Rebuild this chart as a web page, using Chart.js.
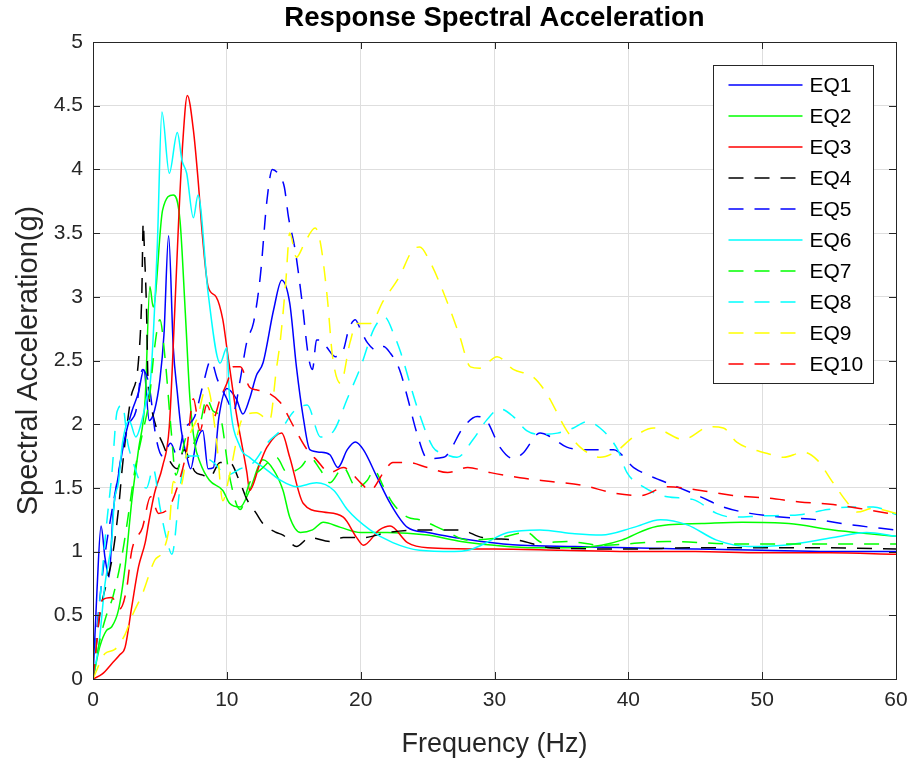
<!DOCTYPE html>
<html>
<head>
<meta charset="utf-8">
<title>Response Spectral Acceleration</title>
<script src="https://cdn.jsdelivr.net/npm/chart.js@4.4.0/dist/chart.umd.min.js"></script>
<style>
  html, body { margin: 0; padding: 0; background: #fff; }
  #wrap { width: 917px; height: 764px; }
</style>
</head>
<body>
<div id="wrap"><canvas id="rsaChart" width="917" height="764"></canvas></div>
<script>
// series, frequency in Hz, acceleration in g
const eq1Freq = [0, 0.3, 0.6, 0.9, 1.2, 1.5, 1.9, 2.4, 2.9, 3.4, 3.8, 4.2, 4.6, 5.0, 5.3, 5.65, 6.0, 6.3, 6.6, 7.0, 7.3, 7.7, 8.2, 8.6, 9.0, 9.4, 10.0, 10.7, 11.2, 11.7, 12.2, 12.7, 13.5, 14.1, 14.7, 15.2, 15.7, 16.2, 17.0, 17.7, 18.3, 19.0, 19.6, 20.2, 21.2, 22.2, 23.5, 25.0, 27.0, 29.0, 32.0, 36.0, 40.0, 45.0, 50.0, 55.0, 60.0];
const eq1Sa   = [0, 0.7, 1.2, 0.95, 0.8, 1.3, 1.6, 1.9, 2.1, 2.25, 2.43, 2.03, 2.11, 2.35, 2.7, 3.48, 2.6, 2.25, 1.95, 1.75, 1.65, 1.85, 1.95, 1.65, 1.66, 2.05, 2.28, 2.2, 2.08, 2.2, 2.38, 2.48, 2.9, 3.13, 2.95, 2.45, 2.06, 1.8, 1.78, 1.76, 1.66, 1.8, 1.86, 1.8, 1.59, 1.38, 1.19, 1.15, 1.11, 1.08, 1.05, 1.04, 1.03, 1.02, 1.01, 1.0, 1.0];

const eq2Freq = [0, 0.5, 1.0, 1.4, 1.9, 2.4, 2.9, 3.4, 3.9, 4.25, 4.5, 5.2, 6.0, 6.5, 6.9, 7.25, 7.6, 8.0, 8.7, 9.7, 10.2, 11.0, 11.7, 12.7, 13.5, 14.2, 14.7, 15.5, 16.4, 17.2, 18.5, 20.0, 22.0, 25.0, 27.5, 30.0, 33.0, 36.0, 38.0, 39.5, 41.5, 43.0, 45.5, 48.5, 52.0, 55.3, 58.0, 60.0];
const eq2Sa   = [0, 0.25, 0.38, 0.41, 0.54, 0.88, 1.4, 1.8, 2.2, 3.08, 2.92, 3.68, 3.8, 3.6, 2.87, 2.19, 1.85, 1.7, 1.56, 1.48, 1.38, 1.35, 1.48, 1.72, 1.64, 1.48, 1.27, 1.15, 1.17, 1.23, 1.19, 1.15, 1.15, 1.13, 1.08, 1.05, 1.03, 1.03, 1.05, 1.09, 1.18, 1.21, 1.22, 1.23, 1.22, 1.17, 1.14, 1.12];

const eq3Freq = [0, 0.7, 1.4, 2.0, 2.4, 2.9, 3.4, 3.9, 4.2, 4.6, 5.2, 5.7, 6.1, 6.4, 6.7, 7.05, 7.5, 7.85, 8.2, 8.6, 9.2, 9.7, 10.0, 10.7, 11.5, 11.7, 12.5, 13.0, 14.1, 14.7, 15.7, 17.2, 18.7, 19.7, 20.2, 21.4, 22.2, 23.5, 25.0, 30.0, 35.0, 40.0, 45.0, 50.0, 55.0, 60.0];
const eq3Sa   = [0, 0.04, 0.12, 0.19, 0.25, 0.57, 0.88, 1.07, 1.25, 1.46, 1.67, 1.98, 2.87, 3.6, 4.2, 4.58, 4.31, 3.92, 3.45, 3.08, 3.0, 2.82, 2.6, 2.09, 1.62, 1.48, 1.7, 1.82, 1.93, 1.74, 1.38, 1.31, 1.27, 1.11, 1.05, 1.17, 1.2, 1.07, 1.03, 1.02, 1.01, 1.0, 1.0, 0.99, 0.99, 0.98];

const eq4Freq = [0, 0.5, 1.0, 1.4, 1.9, 2.2, 2.8, 3.4, 3.65, 3.75, 3.85, 4.0, 4.1, 4.4, 4.8, 5.2, 5.8, 6.3, 6.8, 7.3, 7.6, 8.2, 8.7, 9.5, 10.2, 11.0, 11.5, 12.2, 12.7, 13.7, 14.2, 15.2, 16.2, 17.7, 18.7, 20.2, 22.0, 24.4, 27.4, 29.1, 31.7, 34.2, 40.0, 45.0, 50.0, 55.0, 60.0];
const eq4Sa   = [0, 0.5, 0.75, 0.93, 1.33, 1.67, 2.19, 2.5, 3.03, 3.58, 3.34, 2.9, 2.37, 2.11, 1.95, 1.85, 1.7, 1.65, 1.8, 1.7, 1.63, 1.6, 1.58, 1.7, 1.7, 1.54, 1.41, 1.3, 1.22, 1.15, 1.13, 1.04, 1.11, 1.08, 1.11, 1.11, 1.15, 1.17, 1.17, 1.11, 1.09, 1.03, 1.02, 1.03, 1.03, 1.03, 1.02];

const eq5Freq = [0, 0.3, 0.8, 1.3, 1.8, 2.2, 2.7, 3.2, 3.7, 4.2, 4.7, 5.2, 5.8, 6.3, 6.8, 7.6, 8.2, 8.8, 9.3, 10.0, 10.5, 11.0, 11.5, 12.0, 12.5, 13.0, 13.4, 14.0, 14.3, 14.6, 15.1, 15.6, 16.1, 16.4, 16.7, 17.1, 17.5, 18.1, 18.7, 19.1, 19.6, 20.0, 20.5, 21.2, 21.7, 22.2, 22.9, 23.5, 24.2, 25.0, 26.2, 27.7, 28.7, 29.4, 30.4, 31.4, 32.1, 33.4, 34.2, 35.4, 36.9, 38.9, 40.4, 42.4, 43.6, 45.4, 47.1, 49.1, 51.6, 54.1, 56.6, 60.0];
const eq5Sa   = [0, 0.4, 0.9, 1.25, 1.55, 1.8, 2.0, 2.1, 2.43, 2.3, 1.9, 1.75, 1.85, 1.75, 1.95, 2.06, 2.3, 2.5, 2.35, 2.2, 2.1, 2.35, 2.65, 2.8, 3.16, 3.76, 4.0, 3.94, 3.86, 3.63, 3.37, 2.98, 2.53, 2.43, 2.66, 2.66, 2.6, 2.53, 2.58, 2.74, 2.82, 2.74, 2.64, 2.58, 2.61, 2.56, 2.43, 2.21, 1.93, 1.73, 1.74, 1.98, 2.06, 2.03, 1.82, 1.73, 1.77, 1.93, 1.9, 1.82, 1.8, 1.8, 1.66, 1.56, 1.51, 1.43, 1.35, 1.3, 1.27, 1.25, 1.21, 1.17];

const eq6Freq = [0, 0.45, 0.9, 1.4, 1.6, 1.9, 2.2, 2.7, 3.2, 3.7, 4.0, 4.3, 4.8, 5.15, 5.7, 6.3, 6.65, 7.0, 7.5, 7.85, 8.6, 9.5, 10.0, 10.2, 11.0, 11.7, 13.0, 14.0, 15.2, 16.7, 18.0, 19.0, 20.7, 22.4, 24.4, 27.0, 28.0, 29.0, 31.0, 33.4, 36.0, 38.0, 40.4, 42.4, 44.4, 46.6, 49.0, 51.6, 55.3, 57.8, 60.0];
const eq6Sa   = [0, 0.28, 0.75, 1.09, 1.4, 1.54, 1.85, 2.03, 1.9, 2.05, 2.2, 2.35, 3.39, 4.45, 3.97, 4.29, 4.07, 3.97, 3.62, 3.8, 3.03, 2.48, 2.6, 2.21, 1.82, 1.74, 1.64, 1.56, 1.51, 1.54, 1.48, 1.33, 1.17, 1.07, 1.01, 1.0, 1.01, 1.05, 1.15, 1.17, 1.14, 1.13, 1.19, 1.25, 1.21, 1.09, 1.04, 1.05, 1.11, 1.15, 1.12];

const eq7Freq = [0, 0.5, 1.0, 1.5, 2.2, 2.7, 3.1, 3.7, 4.2, 4.6, 5.0, 5.4, 5.8, 6.2, 6.6, 7.0, 7.5, 8.0, 8.5, 9.0, 9.5, 10.2, 11.0, 11.7, 12.7, 13.7, 14.5, 15.5, 16.2, 17.0, 17.7, 18.7, 19.7, 20.5, 21.0, 21.7, 22.4, 23.5, 24.4, 26.2, 28.0, 30.4, 32.4, 33.6, 35.4, 38.0, 42.9, 48.0, 54.0, 60.0];
const eq7Sa   = [0, 0.3, 0.5, 0.65, 0.99, 1.33, 1.62, 1.93, 2.19, 2.6, 2.82, 2.5, 2.0, 1.6, 1.75, 1.9, 1.85, 2.0, 2.2, 2.1, 2.06, 1.59, 1.33, 1.54, 1.66, 1.74, 1.62, 1.66, 1.74, 1.64, 1.54, 1.66, 1.5, 1.56, 1.64, 1.51, 1.38, 1.27, 1.25, 1.17, 1.09, 1.11, 1.15, 1.07, 1.08, 1.05, 1.08, 1.06, 1.06, 1.06];

const eq8Freq = [0, 0.5, 1.0, 1.4, 1.8, 2.2, 2.6, 3.0, 3.5, 4.0, 4.5, 5.0, 5.5, 5.9, 6.5, 7.0, 8.0, 9.0, 10.0, 11.0, 12.0, 13.0, 14.0, 15.0, 16.0, 17.0, 18.0, 19.0, 20.0, 21.0, 21.8, 22.5, 23.0, 24.2, 25.4, 26.2, 27.2, 28.4, 29.4, 30.4, 31.4, 32.4, 33.4, 34.7, 35.9, 36.9, 38.1, 39.2, 39.9, 41.1, 42.9, 44.8, 46.6, 47.8, 50.0, 52.8, 54.9, 56.6, 58.3, 60.0];
const eq8Sa   = [0, 0.6, 1.2, 1.6, 2.1, 2.15, 1.85, 1.7, 1.55, 1.5, 1.65, 1.35, 1.1, 0.98, 1.5, 1.75, 1.75, 1.7, 1.6, 1.65, 1.7, 1.85, 1.95, 2.1, 2.15, 1.9, 1.95, 2.2, 2.45, 2.75, 2.84, 2.7, 2.56, 2.14, 1.82, 1.77, 1.74, 1.88, 2.03, 2.12, 2.06, 1.95, 1.92, 1.93, 1.97, 2.02, 1.95, 1.8, 1.62, 1.51, 1.43, 1.41, 1.3, 1.27, 1.28, 1.29, 1.33, 1.35, 1.35, 1.29];

const eq9Freq = [0, 0.9, 1.6, 2.4, 2.9, 3.7, 4.6, 5.2, 5.7, 6.0, 6.5, 7.2, 7.8, 8.5, 9.2, 9.7, 10.2, 11.2, 12.2, 13.2, 13.7, 14.0, 14.4, 14.7, 15.2, 15.8, 16.6, 17.0, 17.5, 17.9, 18.5, 19.2, 19.7, 20.7, 21.7, 22.9, 23.9, 24.4, 25.2, 26.5, 27.4, 28.2, 28.9, 30.2, 31.4, 32.9, 33.9, 35.4, 36.4, 37.9, 39.0, 40.4, 41.9, 44.1, 46.1, 47.1, 48.1, 50.4, 51.6, 53.1, 54.1, 55.3, 56.4, 57.1, 58.3, 60.0];
const eq9Sa   = [0, 0.2, 0.23, 0.35, 0.49, 0.67, 0.93, 1.0, 1.2, 1.55, 1.5, 1.9, 2.05, 2.3, 1.9, 1.4, 1.6, 2.05, 2.09, 2.03, 2.43, 2.66, 3.11, 3.5, 3.31, 3.42, 3.54, 3.42, 3.0, 2.53, 2.32, 2.64, 2.79, 2.79, 2.97, 3.16, 3.37, 3.39, 3.27, 2.95, 2.69, 2.45, 2.44, 2.53, 2.43, 2.37, 2.24, 1.95, 1.82, 1.74, 1.78, 1.9, 1.97, 1.88, 1.98, 1.97, 1.86, 1.77, 1.74, 1.78, 1.72, 1.54, 1.38, 1.31, 1.34, 1.3];

const eq10Freq = [0, 0.7, 1.4, 2.0, 2.5, 2.9, 3.7, 4.3, 4.9, 5.7, 6.4, 7.0, 7.5, 8.0, 8.5, 9.0, 9.5, 10.0, 10.5, 11.0, 11.7, 12.2, 13.2, 14.0, 15.0, 16.0, 16.7, 17.7, 18.7, 20.0, 20.7, 21.7, 22.4, 23.5, 25.0, 26.5, 28.0, 29.7, 31.9, 34.2, 36.6, 38.9, 40.9, 42.9, 45.4, 47.8, 50.4, 52.8, 55.3, 57.8, 60.0];
const eq10Sa   = [0, 0.62, 0.64, 0.55, 0.7, 1.01, 1.19, 1.43, 1.3, 1.35, 1.54, 1.8, 2.2, 1.95, 2.15, 2.05, 2.2, 2.32, 2.45, 2.45, 2.29, 2.27, 2.24, 2.17, 1.98, 1.8, 1.72, 1.62, 1.66, 1.54, 1.48, 1.62, 1.7, 1.7, 1.66, 1.62, 1.66, 1.62, 1.58, 1.55, 1.52, 1.46, 1.44, 1.51, 1.48, 1.44, 1.42, 1.39, 1.37, 1.33, 1.29];

const seriesLabels = ["EQ1", "EQ2", "EQ3", "EQ4", "EQ5", "EQ6", "EQ7", "EQ8", "EQ9", "EQ10"];
const seriesColors = ["#0000ff", "#00ff00", "#ff0000", "#000000", "#0000ff", "#00ffff", "#00ff00", "#00ffff", "#ffff00", "#ff0000"];
const seriesDashed = [false, false, false, true, true, false, true, true, true, true];
const freqLists = [eq1Freq, eq2Freq, eq3Freq, eq4Freq, eq5Freq, eq6Freq, eq7Freq, eq8Freq, eq9Freq, eq10Freq];
const saLists = [eq1Sa, eq2Sa, eq3Sa, eq4Sa, eq5Sa, eq6Sa, eq7Sa, eq8Sa, eq9Sa, eq10Sa];

const axisColor = "#262626";
const gridColor = "#dedede";
const dashPattern = [15, 11];

Chart.defaults.font.family = '"Liberation Sans", Arial, Helvetica, sans-serif';

// box around the axes, inward tick marks and the boxed legend (MATLAB look)
const axesBox = {
  id: "axesBox",
  afterDatasetsDraw(chart) {
    const { ctx, chartArea: a } = chart;
    const xs = chart.scales.x, ys = chart.scales.y;
    const tickLen = 7;
    ctx.save();
    ctx.strokeStyle = axisColor;
    ctx.lineWidth = 1;
    ctx.strokeRect(Math.round(a.left) + 0.5, Math.round(a.top) + 0.5,
                   Math.round(a.right - a.left), Math.round(a.bottom - a.top));
    ctx.beginPath();
    xs.ticks.forEach(t => {
      const px = Math.round(xs.getPixelForValue(t.value)) + 0.5;
      ctx.moveTo(px, a.bottom); ctx.lineTo(px, a.bottom - tickLen);
      ctx.moveTo(px, a.top); ctx.lineTo(px, a.top + tickLen);
    });
    ys.ticks.forEach(t => {
      const py = Math.round(ys.getPixelForValue(t.value)) + 0.5;
      ctx.moveTo(a.left, py); ctx.lineTo(a.left + tickLen, py);
      ctx.moveTo(a.right, py); ctx.lineTo(a.right - tickLen, py);
    });
    ctx.stroke();

    // legend
    const boxW = 160, rowH = 31.1;
    const boxH = Math.round(rowH * chart.data.datasets.length + 7);
    const bx = Math.round(a.right - 23 - boxW) + 0.5;
    const by = Math.round(a.top + 23) + 0.5;
    ctx.fillStyle = "#ffffff";
    ctx.fillRect(bx, by, boxW, boxH);
    ctx.strokeStyle = axisColor;
    ctx.strokeRect(bx, by, boxW, boxH);
    ctx.font = '21px "Liberation Sans", Arial, sans-serif';
    ctx.textBaseline = "middle";
    ctx.textAlign = "left";
    chart.data.datasets.forEach((ds, i) => {
      const cy = Math.round(by + 19 + i * rowH);
      ctx.strokeStyle = ds.borderColor;
      ctx.lineWidth = 1.5;
      ctx.setLineDash(ds.borderDash);
      ctx.beginPath();
      ctx.moveTo(bx + 15, cy);
      ctx.lineTo(bx + 89, cy);
      ctx.stroke();
      ctx.setLineDash([]);
      ctx.fillStyle = "#000000";
      ctx.fillText(ds.label, bx + 96, cy + 1);
    });
    ctx.restore();
  }
};

const datasets = seriesLabels.map((label, i) => ({
  label: label,
  data: freqLists[i].map((f, k) => ({ x: f, y: saLists[i][k] })),
  borderColor: seriesColors[i],
  backgroundColor: seriesColors[i],
  borderWidth: 1.5,
  borderDash: seriesDashed[i] ? dashPattern : [],
  pointRadius: 0,
  fill: false,
  cubicInterpolationMode: "monotone",
  order: seriesLabels.length - i
}));

new Chart(document.getElementById("rsaChart").getContext("2d"), {
  type: "line",
  data: { datasets: datasets },
  options: {
    responsive: false,
    devicePixelRatio: 1,
    animation: false,
    layout: { padding: { left: 0, right: 21, top: 0, bottom: 0 } },
    plugins: {
      legend: { display: false },
      tooltip: { enabled: false },
      title: {
        display: true,
        fullSize: false,   // centre the title over the plot area, like MATLAB
        text: "Response Spectral Acceleration",
        color: "#000000",
        font: { size: 27.5, weight: "bold" },
        padding: { top: 2, bottom: 7 }
      }
    },
    scales: {
      x: {
        type: "linear",
        min: 0,
        max: 60,
        afterFit: s => { s.height = 85; },
        ticks: { stepSize: 10, color: axisColor, font: { size: 21 }, padding: 9, maxRotation: 0 },
        grid: { color: gridColor, drawTicks: false },
        border: { color: axisColor },
        title: {
          display: true,
          text: "Frequency (Hz)",
          color: axisColor,
          font: { size: 27 },
          padding: { top: 0, bottom: 3 }
        }
      },
      y: {
        min: 0,
        max: 5,
        afterFit: s => { s.width = 93; },
        ticks: { stepSize: 0.5, color: axisColor, font: { size: 21 }, padding: 10, callback: v => String(v) },
        grid: { color: gridColor, drawTicks: false },
        border: { color: axisColor },
        title: {
          display: true,
          text: "Spectral Acceleration(g)",
          color: axisColor,
          font: { size: 29 },
          padding: { top: 12, bottom: 0 }
        }
      }
    }
  },
  plugins: [axesBox]
});
</script>
</body>
</html>
